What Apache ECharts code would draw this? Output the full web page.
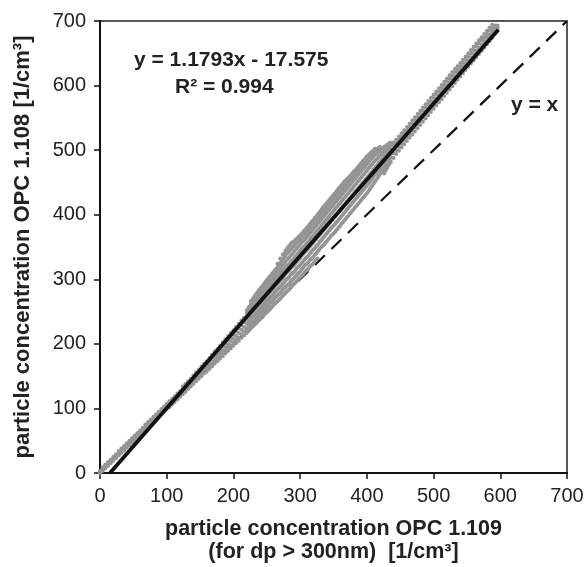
<!DOCTYPE html>
<html>
<head>
<meta charset="utf-8">
<script src="https://cdn.jsdelivr.net/npm/echarts@6/dist/echarts.min.js"></script>
<style>
html,body{margin:0;padding:0;background:#fff;}
#chart{width:586px;height:567px;}
</style>
</head>
<body>
<div id="chart"></div>
<script>
// Axis range
const axisMin = 0, axisMax = 700, axisStep = 100;

// Regression line: y = 1.1793x - 17.575 drawn over the observed x-range
const fitSlope = 1.1793;
const fitIntercept = -17.575;
const fitXRange = [14.9, 597];

// Identity line y = x
const identityX = [0, 700];

// Observed values, one row per OPC 1.109 reading: [x, y1, y2, ...] (OPC 1.108 readings)
const rowsLow = [
  [0,0,1,3],[4,3,5,7,9],[8,7,9,11,13],[12,11,13,15,17],[16,15,17,19,21],[20,19,21,23,25],[24,23,25,27,29],
  [28,27,29,31,34],[32,31,33,35,38],[36,35,37,40,42],[40,39,41,44,46],[44,43,45,48,50],[48,47,49,52,54],
  [52,51,53,56,58],[56,55,57,60,62],[60,59,61,64,66],[64,63,65,68,70],[68,67,69,72,75],[72,71,73,76,79],
  [76,75,77,80,83],[80,79,81,84,87],[84,83,85,88,91],[88,87,89,92,95],[92,91,93,96,99],[96,95,97,100,103],
  [100,99,101,104,107]
];
const rowsMid = [
  [104,102,105,108,111],[108,106,109,112,115],[112,110,113,116,119],[116,114,117,120,123],[120,118,121,124,127],
  [124,122,125,128,131,134],[128,126,129,132,135,138],[132,130,133,136,139,142],[136,134,137,140,143,146],
  [140,138,141,144,148,151],[144,142,145,149,152,156],[148,146,149,153,157,160],[152,150,153,157,161,165],
  [156,154,157,161,165,169],[160,157,161,165,169,173],[164,161,165,169,173,178],[168,165,169,173,178,183],
  [172,169,173,178,183,188],[176,173,177,182,187,192],[180,177,181,186,191,197],[184,181,185,190,196,202],
  [188,185,190,195,201,207],[192,189,194,199,205,212],[196,193,198,204,210,217],[200,197,202,208,214,221],
  [204,201,206,212,219,226],[208,205,210,217,224,231],[212,209,215,222,229,236],[216,213,219,226,234,241]
];
const rowsWide = [
  [220,217,223,231,239,247,252],[224,221,228,236,244,252,258],[228,226,233,241,249,257,263,268],
  [232,230,237,245,253,261,268,274],[236,234,241,249,258,266,273,280],[240,238,246,254,262,270,278,285],
  [244,242,250,258,267,275,283,290],[248,247,255,263,271,280,288,296],[252,251,259,268,276,285,293,301],
  [256,255,264,272,281,290,298,306],[260,260,268,277,286,295,303,311],[264,264,273,282,291,300,308,316],
  [268,268,277,286,295,305,313,322],[272,272,281,290,300,310,319,328],[276,277,286,295,305,315,324,334,340],
  [280,281,290,300,310,320,330,340,347],[284,285,294,304,314,324,334,344,352],[288,290,299,309,319,329,339,349,357],
  [292,294,303,313,323,334,344,353,360],[296,298,308,318,328,339,349,358,364],[300,303,312,322,333,344,354,362,368],
  [304,307,317,327,338,349,359,367,372],[308,312,322,332,343,353,363,371,377],[312,316,326,336,347,358,368,376,382],
  [316,321,331,341,352,363,373,381,387],[320,325,335,346,357,368,378,386,392],[324,330,340,351,362,373,383,391,397],
  [328,345,356,367,378,388,396,402],[332,350,361,372,383,393,401,408],[336,354,366,377,388,398,406,413],
  [340,359,371,382,393,403,411,418],[344,364,376,387,398,408,416,423],[348,369,381,392,403,413,421,428],
  [352,373,385,397,408,418,426,433],[356,378,390,402,413,423,431,438],[360,383,395,407,418,428,436,443],
  [364,388,400,412,423,433,441,448],[368,393,405,417,428,438,446,453],[372,398,410,422,433,443,451,457],
  [376,403,415,427,438,448,455,461],[380,408,420,432,443,453,460,466],[384,413,425,437,448,458,465,470],
  [388,418,430,442,453,463,470,475],[392,423,435,447,458,468,475,480],[396,428,440,452,463,473,480,485],
  [400,433,445,457,468,478,485,490],[404,439,450,462,473,483,490,494],[408,445,456,467,478,488,494,498],
  [412,451,462,472,483,492,498,502],[416,457,467,477,487,496,502],[420,463,472,482,492,500,505],
  [424,469,478,487,496,503],[428,468,476,484,492,500,506],[432,476,483,490,497,504,509],[436,482,489,496,502,508,512]
];
const rowsWideB = [
  [222,220,226,234,243,250,255],[226,224,231,239,247,255,261,266],[230,228,235,243,251,259,266,271],
  [234,232,240,247,256,263,271,277],[238,236,244,252,260,268,276,283],[242,241,248,256,265,273,281,288],
  [246,245,253,261,269,278,286,293],[250,249,257,266,274,283,291,299],[254,253,262,270,279,288,296,304],
  [258,258,266,275,284,293,301,309],[262,262,271,280,289,298,306,314],[266,266,275,284,293,303,311,319,324],
  [270,270,279,288,298,308,316,325,332],[274,275,284,293,302,312,322,331,338],[278,279,288,298,308,318,327,337,344],
  [282,283,292,302,312,322,332,342,350],[286,288,297,307,317,327,337,346,355],[290,292,301,311,321,331,341,351,358],
  [294,296,306,316,326,336,347,356,362],[298,301,310,320,331,341,352,360,366],[302,305,315,325,336,347,357,365,370],
  [306,310,320,330,341,351,361,369,375],[310,314,324,334,345,356,366,374,380],[314,319,329,339,350,361,371,379,385],
  [318,323,333,344,355,366,376,384,390],[322,328,338,348,360,371,381,389,395],[326,332,343,353,365,376,386,394,400],
  [330,348,359,370,381,391,399,405],[334,352,364,375,386,396,404,411],[338,357,369,380,391,401,409,416],
  [342,362,374,385,396,406,414,421],[346,367,379,390,401,411,419,426],[350,371,383,395,406,416,424,431],
  [354,376,388,400,411,421,429,436],[358,381,393,405,416,426,434,441],[362,386,398,410,421,431,439,446],
  [366,391,403,415,426,436,444,451],[370,396,408,420,431,441,449,455],[374,401,413,425,436,446,453,459],
  [378,406,418,430,441,451,458,464],[382,411,423,435,446,456,463,468],[386,416,428,440,451,461,468,473],
  [390,421,433,445,456,466,473,478],[394,426,438,450,461,471,478,483],[398,431,443,455,466,476,483,488],
  [402,436,448,460,471,481,488,492],[406,442,453,465,476,486,492,496],[410,448,459,470,481,490,496,500],
  [414,454,464,475,485,494,500],[418,460,470,480,490,498,504],[422,466,475,485,494,502],
  [426,464,472,481,490,498,505],[430,472,480,487,495,502,508],[434,479,486,493,500,506,511]
];
const rowsHigh = [
  [440,488,495,501,507,512],[444,494,500,506,511,516],[448,499,505,511,516,521],[452,504,510,516,521,526],
  [456,509,515,521,526,531],[460,514,520,526,531,536],[464,519,525,531,536,541],[468,524,530,535,541,546],
  [472,529,535,540,546,551],[476,534,540,545,551,556],[480,539,545,550,556,561],[484,544,550,555,561,566],
  [488,549,555,560,566,571],[492,554,560,565,571,576],[496,559,565,570,576,581],[500,564,570,575,581,586],
  [504,569,575,580,586,591],[508,574,580,585,591,596],[512,579,585,590,596,601],[516,584,590,595,601,606],
  [520,589,595,600,606,611],[524,594,600,605,611,616],[528,599,605,610,616,621],[532,604,610,615,621,626],
  [536,609,614,620,625,630],[540,614,619,624,630,635],[544,619,624,629,635,640],[548,624,629,634,640,645],
  [552,629,634,639,645,650],[556,634,639,644,650,655],[560,639,644,649,655,660],[564,644,649,654,660,665],
  [568,649,654,659,665,670],[572,654,659,664,670,675],[576,659,664,669,675,680],[580,664,669,674,680,685],
  [584,669,674,679,685,690],[588,674,679,684,689,694],[592,680,684,689,693],[596,685,689,693]
];

const scatterData = [];
[rowsLow, rowsMid, rowsWide, rowsWideB, rowsHigh].forEach(rows => rows.forEach(r => {
  for (let i = 1; i < r.length; i++) scatterData.push([r[0], r[i]]);
}));
const fitData = fitXRange.map(x => [x, fitSlope * x + fitIntercept]);
const identityData = identityX.map(x => [x, x]);

const FONT = "'Liberation Sans', Arial, sans-serif";
const chart = echarts.init(document.getElementById('chart'), null, {renderer: 'canvas'});

chart.setOption({
  backgroundColor: '#ffffff',
  animation: false,
  grid: {
    left: 100, right: 19, top: 21, bottom: 94,
    containLabel: false,
    outerBoundsMode: 'none',
    show: true, borderColor: '#222', borderWidth: 1.5, backgroundColor: 'transparent'
  },
  xAxis: {
    type: 'value', min: axisMin, max: axisMax, interval: axisStep,
    axisLine: {show: true, onZero: false, lineStyle: {color: '#111', width: 2}},
    axisTick: {show: true, inside: false, length: 6, lineStyle: {color: '#111', width: 1.5}},
    axisLabel: {color: '#222', fontSize: 20, fontFamily: FONT, margin: 13, showMinLabel: true, showMaxLabel: true},
    splitLine: {show: false},
    name: 'particle concentration OPC 1.109\n(for dp > 300nm)  [1/cm³]',
    nameLocation: 'middle', nameGap: 45,
    nameTextStyle: {color: '#222', fontSize: 21.5, fontWeight: 'bold', fontFamily: FONT, lineHeight: 23}
  },
  yAxis: {
    type: 'value', min: axisMin, max: axisMax, interval: axisStep,
    axisLine: {show: true, onZero: false, lineStyle: {color: '#111', width: 2}},
    axisTick: {show: true, inside: false, length: 6, lineStyle: {color: '#111', width: 1.5}},
    axisLabel: {color: '#222', fontSize: 20, fontFamily: FONT, margin: 14, showMinLabel: true, showMaxLabel: true},
    splitLine: {show: false},
    name: 'particle concentration OPC 1.108 [1/cm³]',
    nameLocation: 'middle', nameGap: 66, nameRotate: 90,
    nameTextStyle: {color: '#222', fontSize: 22, fontWeight: 'bold', fontFamily: FONT}
  },
  series: [
    {
      type: 'line', data: identityData, symbol: 'none', z: 1,
      lineStyle: {color: '#111', width: 2.2, type: [14, 9]}, silent: true
    },
    {
      type: 'scatter', data: scatterData, symbol: 'circle', symbolSize: 4, z: 2,
      itemStyle: {color: '#959595', opacity: 1}, silent: true
    },
    {
      type: 'line', data: fitData, symbol: 'none', z: 3,
      lineStyle: {color: '#111', width: 3.8}, silent: true
    }
  ],
  graphic: [
    {type: 'text', left: 134, top: 50, style: {text: 'y = 1.1793x - 17.575', font: "bold 21px " + FONT, fill: '#222'}},
    {type: 'text', left: 175, top: 77, style: {text: 'R² = 0.994', font: "bold 21px " + FONT, fill: '#222'}},
    {type: 'text', left: 511, top: 95, style: {text: 'y = x', font: "bold 21px " + FONT, fill: '#222'}}
  ]
});
</script>
</body>
</html>
